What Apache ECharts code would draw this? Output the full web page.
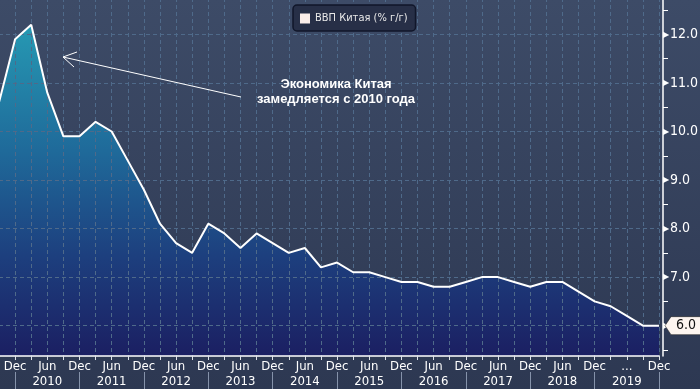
<!DOCTYPE html>
<html>
<head>
<meta charset="utf-8">
<script src="https://cdn.jsdelivr.net/npm/echarts@6/dist/echarts.min.js"></script>
<style>html,body{margin:0;padding:0;background:#333f5a;}#c{width:700px;height:389px;}</style>
</head>
<body>
<div id="c"></div>
<script>
// ---- data ----
const quarters = [
  'Q3 2009','Q4 2009',
  'Q1 2010','Q2 2010','Q3 2010','Q4 2010',
  'Q1 2011','Q2 2011','Q3 2011','Q4 2011',
  'Q1 2012','Q2 2012','Q3 2012','Q4 2012',
  'Q1 2013','Q2 2013','Q3 2013','Q4 2013',
  'Q1 2014','Q2 2014','Q3 2014','Q4 2014',
  'Q1 2015','Q2 2015','Q3 2015','Q4 2015',
  'Q1 2016','Q2 2016','Q3 2016','Q4 2016',
  'Q1 2017','Q2 2017','Q3 2017','Q4 2017',
  'Q1 2018','Q2 2018','Q3 2018','Q4 2018',
  'Q1 2019','Q2 2019','Q3 2019','Q4 2019'
];
const gdp = [
  10.6, 11.9,
  12.2, 10.8, 9.9, 9.9,
  10.2, 10.0, 9.4, 8.8,
  8.1, 7.7, 7.5, 8.1,
  7.9, 7.6, 7.9, 7.7,
  7.5, 7.6, 7.2, 7.3,
  7.1, 7.1, 7.0, 6.9,
  6.9, 6.8, 6.8, 6.9,
  7.0, 7.0, 6.9, 6.8,
  6.9, 6.9, 6.7, 6.5,
  6.4, 6.2, 6.0, 6.0
];
const monthLabels = [
  '', 'Dec',
  '', 'Jun', '', 'Dec',
  '', 'Jun', '', 'Dec',
  '', 'Jun', '', 'Dec',
  '', 'Jun', '', 'Dec',
  '', 'Jun', '', 'Dec',
  '', 'Jun', '', 'Dec',
  '', 'Jun', '', 'Dec',
  '', 'Jun', '', 'Dec',
  '', 'Jun', '', 'Dec',
  '', '...', '', 'Dec'
];
const yearLabels = [
  '', '',
  '', '2010', '', '',
  '', '2011', '', '',
  '', '2012', '', '',
  '', '2013', '', '',
  '', '2014', '', '',
  '', '2015', '', '',
  '', '2016', '', '',
  '', '2017', '', '',
  '', '2018', '', '',
  '', '2019', '', ''
];
const seriesName = 'ВВП Китая (% г/г)';
const noteText = 'Экономика Китая\nзамедляется с 2010 года';
const yMin = 5.375, yMax = 12.75;     // visible plot range
const tickMin = 5, tickMax = 13;      // label axis range (ends hidden)

// ---- chart ----
const F = "'DejaVu Sans Condensed','DejaVu Sans',sans-serif";
const chart = echarts.init(document.getElementById('c'), null, {renderer: 'canvas'});
const lastIdx = gdp.length - 1;
const dash = {color: '#4f6a8a', type: [4, 3], width: 1};

chart.setOption({
  animation: false,
  backgroundColor: new echarts.graphic.LinearGradient(0, 0, 0, 1, [
    {offset: 0, color: '#3d4b67'}, {offset: 1, color: '#2d3852'}
  ]),
  legend: {
    data: [seriesName],
    left: 293, top: 5,
    padding: [8, 8, 7, 7],
    icon: 'rect', itemWidth: 10, itemHeight: 10,
    backgroundColor: '#272f47', borderColor: '#10162a', borderWidth: 1.5, borderRadius: 4,
    textStyle: {color: '#e8e8e8', fontFamily: F, fontSize: 11},
    selectedMode: false
  },
  grid: [
    {left: -1, right: 41, top: -2, bottom: 33, outerBoundsMode: 'none', containLabel: false},
    {left: -1, right: 41, top: -14.1, bottom: 14.8, outerBoundsMode: 'none', containLabel: false}
  ],
  xAxis: [
    {
      gridIndex: 0, type: 'category', data: quarters, boundaryGap: false, z: 2,
      axisLine: {show: true, lineStyle: {color: '#ffffff', width: 1.5}},
      axisTick: {show: true, interval: 0, length: 4, lineStyle: {color: '#dfe3ea'}},
      axisLabel: {interval: 0, formatter: (v, i) => monthLabels[i], color: '#ffffff',
                  fontFamily: F, fontSize: 13, margin: 4},
      splitLine: {show: true, interval: 0, lineStyle: dash}
    },
    {
      gridIndex: 0, type: 'category', data: quarters, boundaryGap: false, position: 'bottom', offset: 16, z: 2,
      axisLine: {show: false},
      axisTick: {show: true, interval: (i) => monthLabels[i] === 'Dec', length: 17, lineStyle: {color: '#8592aa'}},
      axisLabel: {interval: (i) => yearLabels[i] !== '', formatter: (v, i) => yearLabels[i],
                  color: '#ffffff', fontFamily: F, fontSize: 13, margin: 3},
      splitLine: {show: false}
    },
    {gridIndex: 1, type: 'category', data: quarters, boundaryGap: false, show: false}
  ],
  yAxis: [
    {
      gridIndex: 0, type: 'value', position: 'right', offset: 4, min: yMin, max: yMax, z: 2,
      axisLine: {show: true, lineStyle: {color: '#ffffff', width: 1.5}},
      axisTick: {show: false}, axisLabel: {show: false}, splitLine: {show: false}
    },
    {
      gridIndex: 1, type: 'value', position: 'right', offset: 4, min: tickMin, max: tickMax, interval: 1, z: 2,
      axisLine: {show: false}, axisTick: {show: false},
      minorTick: {show: true, splitNumber: 2, length: 5, lineStyle: {color: '#ffffff', width: 1}},
      splitLine: {show: true, showMinLine: false, showMaxLine: false, lineStyle: dash},
      axisLabel: {
        showMinLabel: false, showMaxLabel: false, margin: 0,
        formatter: (v) => '{t|▶}{v|' + v.toFixed(1) + '}',
        rich: {
          t: {fontSize: 8, color: '#ffffff', padding: [0, 1, 0, 0]},
          v: {fontSize: 14, color: '#ffffff', fontFamily: F}
        }
      }
    }
  ],
  series: [
    {
      name: 'area', type: 'line', xAxisIndex: 0, yAxisIndex: 0, data: gdp, symbol: 'none', silent: true, z: 1,
      lineStyle: {width: 0, opacity: 0},
      areaStyle: {
        origin: 'start', opacity: 1,
        color: new echarts.graphic.LinearGradient(0, 0, 0, 1, [
          {offset: 0, color: '#2699b3'},
          {offset: 0.38, color: '#1f6a9a'},
          {offset: 0.7, color: '#1d3f7e'},
          {offset: 1, color: '#1b1f62'}
        ])
      }
    },
    {
      name: seriesName, type: 'line', xAxisIndex: 0, yAxisIndex: 0, data: gdp, symbol: 'none', z: 3,
      lineStyle: {color: '#ffffff', width: 2},
      itemStyle: {color: '#fbeeea'},
      markPoint: {
        silent: true,
        symbol: 'path://M0,9 L6,0 L38,0 L38,18 L6,18 Z',
        symbolSize: [38, 18], symbolKeepAspect: false,
        symbolOffset: [25, 0],
        itemStyle: {color: '#fdf5f0', borderColor: '#1a1a1a', borderWidth: 0.5},
        label: {show: true, formatter: (p) => p.value.toFixed(1), color: '#111111',
                fontFamily: F, fontSize: 14, offset: [2, 0]},
        data: [{coord: [quarters[lastIdx], gdp[lastIdx]], value: gdp[lastIdx]}]
      }
    }
  ],
  graphic: [
    {type: 'text', x: 336, y: 77, z: 10,
     style: {text: noteText, fill: '#ffffff', font: "bold 13px 'Liberation Sans', Arial, sans-serif",
             align: 'center', verticalAlign: 'top', lineHeight: 15}},
    {type: 'line', z: 10, shape: {x1: 241, y1: 97, x2: 63, y2: 57}, style: {stroke: '#ffffff', lineWidth: 1}},
    {type: 'polyline', z: 10, shape: {points: [[77, 52], [63, 57], [74, 67]]},
     style: {stroke: '#ffffff', lineWidth: 1, fill: null}}
  ]
});
</script>
</body>
</html>
